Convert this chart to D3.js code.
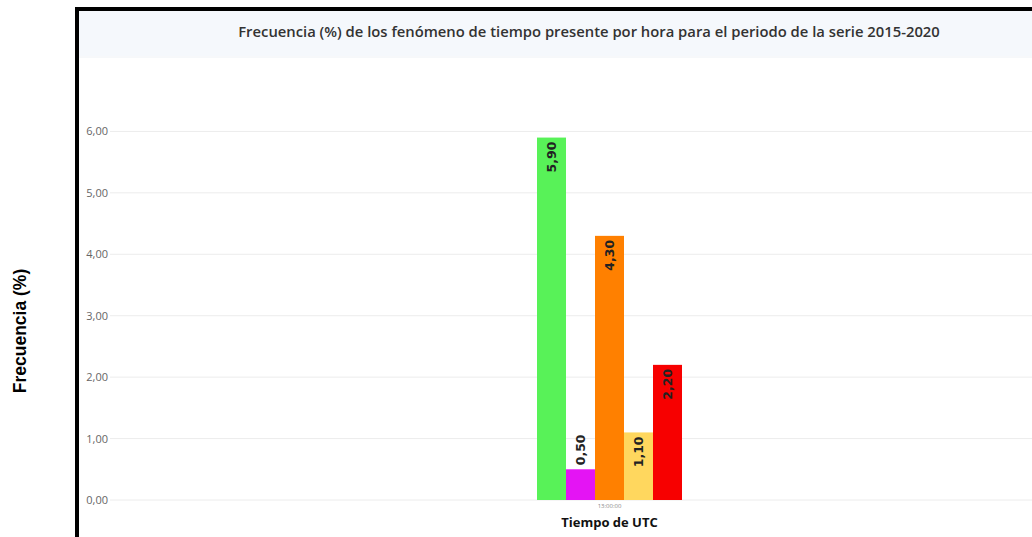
<!DOCTYPE html>
<html>
<head>
<meta charset="utf-8">
<script src="https://cdn.jsdelivr.net/npm/d3@7"></script>
<style>
  body { margin: 0; background: #fff; }
  svg { display: block; }
</style>
</head>
<body>
<div id="chart"></div>
<script>

// Data
let categories = ["13:00:00"];
let series = ["Fenómeno 1", "Fenómeno 2", "Fenómeno 3", "Fenómeno 4", "Fenómeno 5"];
let values = [5.90, 0.50, 4.30, 1.10, 2.20];
let colors = ["#58f258", "#e414f4", "#ff8000", "#ffd75e", "#f70000"];
let yTicks = [0, 1, 2, 3, 4, 5, 6];

let titleText = "Frecuencia (%) de los fenómeno de tiempo presente por hora para el periodo de la serie 2015-2020";

function chartOne(width, height, selector) {

	let margin = { top: 70, left: 110, right: -77, bottom: 37 };
	let chartWidth = width - margin.left - margin.right;
	let chartHeight = height - margin.top - margin.bottom;

	let fmt = d => d3.format(".2f")(d).replace(".", ",");

	let svg = d3.select(selector)
		.append("svg")
		.attr("width", width)
		.attr("height", height);

	// frame + title bar
	svg.append("rect")
		.attr("x", 78).attr("y", 9)
		.attr("width", width).attr("height", 47)
		.attr("fill", "#f5f8fc");
	svg.append("line")
		.attr("x1", 78).attr("x2", width)
		.attr("y1", 57).attr("y2", 57)
		.attr("stroke", "#eef1f5");
	svg.append("path")
		.attr("d", `M77,${height} L77,9 L${width},9`)
		.attr("fill", "none")
		.attr("stroke", "#000")
		.attr("stroke-width", 4);

	svg.append("text")
		.attr("x", 589).attr("y", 37)
		.attr("text-anchor", "middle")
		.attr("font-family", "Open Sans, sans-serif")
		.attr("font-weight", "600")
		.attr("font-size", 14.8)
		.attr("fill", "#333")
		.text(titleText);

	let chart = svg.append("g")
		.attr("transform", `translate(${margin.left},${margin.top})`);

	// scales
	let x0 = d3.scaleBand()
		.domain(categories)
		.range([0, chartWidth])
		.paddingOuter(2.945)
		.paddingInner(0);

	let x1 = d3.scaleBand()
		.domain(series)
		.range([0, x0.bandwidth()]);

	let y = d3.scaleLinear()
		.domain([0, 7])
		.range([chartHeight, 0]);

	// grid
	chart.append("g")
		.selectAll("line")
		.data(yTicks)
		.join("line")
		.attr("x1", 0).attr("x2", chartWidth)
		.attr("y1", d => y(d)).attr("y2", d => y(d))
		.attr("stroke", "#ececec");

	// y axis labels
	let yAxis = chart.append("g")
		.call(d3.axisLeft(y).tickValues(yTicks).tickFormat(fmt).tickSize(0).tickPadding(2));
	yAxis.select(".domain").remove();
	yAxis.selectAll("text")
		.attr("font-family", "Open Sans, sans-serif")
		.attr("font-size", 11)
		.attr("fill", "#666");

	// x axis labels
	let xAxis = chart.append("g")
		.attr("transform", `translate(0,${chartHeight})`)
		.call(d3.axisBottom(x0).tickSize(0).tickPadding(4));
	xAxis.select(".domain").remove();
	xAxis.selectAll("text")
		.attr("font-family", "Open Sans, sans-serif")
		.attr("font-size", 6)
		.attr("fill", "#888");

	// bars
	let group = chart.append("g")
		.attr("transform", `translate(${x0(categories[0])},0)`);

	let barData = series.map((s, i) => ({ name: s, value: values[i], color: colors[i] }));

	group.selectAll("rect")
		.data(barData)
		.join("rect")
		.attr("x", d => x1(d.name))
		.attr("y", d => y(d.value))
		.attr("width", x1.bandwidth())
		.attr("height", d => chartHeight - y(d.value))
		.attr("fill", d => d.color);

	// value labels, rotated
	group.selectAll("text.val")
		.data(barData)
		.join("text")
		.attr("class", "val")
		.each(function(d) {
			let inside = (chartHeight - y(d.value)) > 40;
			let cx = x1(d.name) + x1.bandwidth() / 2;
			let ty = inside ? y(d.value) + 4 : y(d.value) - 4;
			d3.select(this)
				.attr("transform", `translate(${cx + 4.5},${ty}) rotate(-90)`)
				.attr("text-anchor", inside ? "end" : "start");
		})
		.attr("font-family", "DejaVu Sans, sans-serif")
		.attr("font-weight", "bold")
		.attr("font-size", 12.5)
		.attr("fill", "#222")
		.text(d => fmt(d.value));

	// axis titles
	svg.append("text")
		.attr("x", margin.left + x0(categories[0]) + x0.bandwidth() / 2)
		.attr("y", 527)
		.attr("text-anchor", "middle")
		.attr("font-family", "Open Sans, sans-serif")
		.attr("font-weight", "bold")
		.attr("font-size", 13)
		.attr("fill", "#111")
		.text("Tiempo de UTC");

	svg.append("text")
		.attr("transform", "translate(26,331) rotate(-90)")
		.attr("text-anchor", "middle")
		.attr("font-family", "Liberation Sans, Arial, sans-serif")
		.attr("font-weight", "bold")
		.attr("font-size", 17.5)
		.attr("fill", "#000")
		.text("Frecuencia (%)");
}

chartOne(1032, 537, "#chart");
</script>
</body>
</html>
